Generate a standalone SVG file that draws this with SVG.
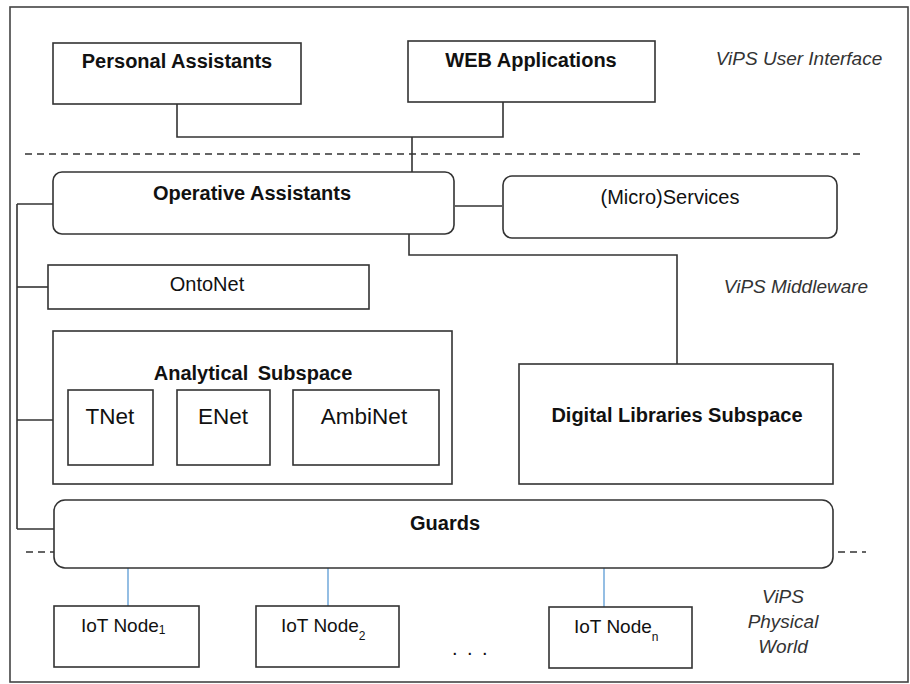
<svg xmlns="http://www.w3.org/2000/svg" width="910" height="684" viewBox="0 0 910 684">
<style>
  .box{fill:#fff;stroke:#333;stroke-width:1.6}
  .ln{fill:none;stroke:#333;stroke-width:1.6}
  .blue{fill:none;stroke:#5b9bd5;stroke-width:1.3}
  .dash{fill:none;stroke:#333;stroke-width:1.4;stroke-dasharray:7,5}
  text{font-family:"Liberation Sans",Arial,sans-serif;fill:#111}
  .b{font-weight:bold;font-size:20px}
  .r{font-size:20px}
  .big{font-size:22.5px}
  .it{font-style:italic;font-size:19px;fill:#333}
  .iot{font-size:19px}
  .sub{font-size:12px}
</style>
<rect x="0" y="0" width="910" height="684" fill="#fff"/>
<rect x="10" y="7" width="898" height="675" fill="none" stroke="#444" stroke-width="1.6"/>

<g id="connectors">
  <polyline class="ln" points="177,104 177,137 503,137 503,102"/>
  <line class="ln" x1="412" y1="137" x2="412" y2="172"/>
  <polyline class="ln" points="409,234 409,255 677,255 677,364"/>
  <line class="ln" x1="455" y1="206" x2="502" y2="206"/>
  <line class="ln" x1="17" y1="204" x2="17" y2="529"/>
  <line class="ln" x1="17" y1="204" x2="53" y2="204"/>
  <line class="ln" x1="17" y1="287" x2="48" y2="287"/>
  <line class="ln" x1="17" y1="420" x2="53" y2="420"/>
  <line class="ln" x1="17" y1="529" x2="55" y2="529"/>
  <line class="blue" x1="128" y1="568" x2="128" y2="606"/>
  <line class="blue" x1="328" y1="568" x2="328" y2="606"/>
  <line class="blue" x1="604" y1="568" x2="604" y2="607"/>
</g>

<g id="layers">
  <line class="dash" x1="25" y1="154" x2="865" y2="154"/>
  <line class="dash" x1="26" y1="552" x2="54" y2="552"/>
  <line class="dash" x1="838" y1="552" x2="866" y2="552"/>
  <text class="it" x="799" y="65" text-anchor="middle">ViPS User Interface</text>
  <text class="it" x="796" y="293" text-anchor="middle">ViPS Middleware</text>
  <text class="it" x="783" y="603" text-anchor="middle">ViPS</text>
  <text class="it" x="783" y="628" text-anchor="middle">Physical</text>
  <text class="it" x="783" y="653" text-anchor="middle">World</text>
</g>

<g id="personal-assistants">
  <rect class="box" x="53" y="43" width="248" height="61"/>
  <text class="b" x="177" y="68" text-anchor="middle">Personal Assistants</text>
</g>
<g id="web-applications">
  <rect class="box" x="408" y="41" width="247" height="61"/>
  <text class="b" x="531" y="67" text-anchor="middle">WEB Applications</text>
</g>
<g id="operative-assistants">
  <rect class="box" x="53" y="172" width="401" height="62" rx="9"/>
  <text class="b" x="252" y="200" text-anchor="middle">Operative Assistants</text>
</g>
<g id="microservices">
  <rect class="box" x="503" y="176" width="334" height="62" rx="9"/>
  <text class="r" x="670" y="204" text-anchor="middle">(Micro)Services</text>
</g>
<g id="ontonet">
  <rect class="box" x="48" y="265" width="321" height="44"/>
  <text class="r" x="207" y="291" text-anchor="middle">OntoNet</text>
</g>
<g id="analytical-subspace">
  <rect class="box" x="53" y="331" width="399" height="153"/>
  <text class="b" x="253" y="380" text-anchor="middle" word-spacing="4">Analytical Subspace</text>
</g>
<g id="tnet">
  <rect class="box" x="68" y="390" width="85" height="75"/>
  <text class="big" x="110" y="424" text-anchor="middle">TNet</text>
</g>
<g id="enet">
  <rect class="box" x="177" y="390" width="93" height="75"/>
  <text class="big" x="223" y="424" text-anchor="middle">ENet</text>
</g>
<g id="ambinet">
  <rect class="box" x="293" y="390" width="146" height="75"/>
  <text class="big" x="364" y="424" text-anchor="middle">AmbiNet</text>
</g>
<g id="digital-libraries">
  <rect class="box" x="519" y="364" width="314" height="120"/>
  <text class="b" x="677" y="422" text-anchor="middle">Digital Libraries Subspace</text>
</g>
<g id="guards">
  <rect class="box" x="54" y="500" width="779" height="68" rx="11"/>
  <text class="b" x="445" y="530" text-anchor="middle">Guards</text>
</g>
<g id="iot-node-1">
  <rect class="box" x="54" y="606" width="145" height="61"/>
  <text class="iot" x="81" y="632">IoT Node<tspan class="sub" dy="2">1</tspan></text>
</g>
<g id="iot-node-2">
  <rect class="box" x="256" y="606" width="143" height="61"/>
  <text class="iot" x="281" y="632">IoT Node<tspan class="sub" dy="8">2</tspan></text>
</g>
<g id="ellipsis">
  <text x="452 467 482" y="655" font-size="20">...</text>
</g>
<g id="iot-node-n">
  <rect class="box" x="549" y="607" width="143" height="61"/>
  <text class="iot" x="574" y="633">IoT Node<tspan class="sub" dy="8">n</tspan></text>
</g>
</svg>
